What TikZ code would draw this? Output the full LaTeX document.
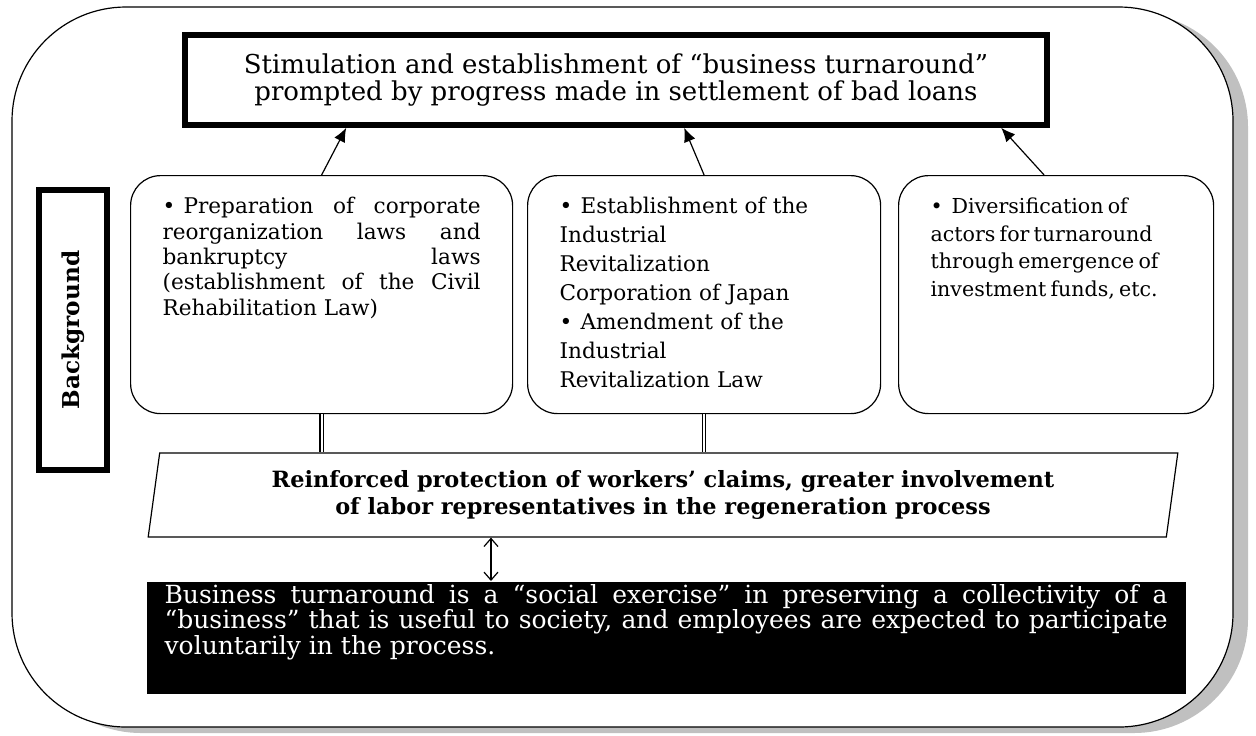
\documentclass[tikz,border=0pt]{standalone}
\usepackage{fontspec}
\setmainfont{DejaVu Serif}
\usepackage{tikz}
\usetikzlibrary{arrows.meta}
\usetikzlibrary{shapes.geometric}
\definecolor{shadowgray}{RGB}{192,192,192}
\newcommand{\bitem}{\noindent\hangindent=10.5pt\hangafter=1\makebox[10.5pt][l]{\textbullet}}

\begin{document}
\begin{tikzpicture}[x=0.5pt,y=-0.5pt,line width=0.6pt,
  cause/.style={draw,rounded corners=15pt,anchor=north west,inner xsep=16pt,inner ysep=0pt,
    text height=19pt,text depth=100pt},
  up/.style={-{Latex[length=7pt,width=6pt]}},
  barb/.style={{Straight Barb[length=4pt,width=7pt]}-{Straight Barb[length=4pt,width=7pt]}}]
\useasboundingbox (0,0) rectangle (1256,735);
\fill[shadowgray,rounded corners=57pt] (27,13) rectangle (1248,733);
\draw[fill=white,rounded corners=57pt] (12,7) rectangle (1233,727);
\node (goal) [draw,line width=2.8pt,minimum width=431pt,minimum height=45pt,align=center,
  font=\fontsize{13}{13.2}\selectfont] at (616,80)
  {Stimulation and establishment of “business turnaround”\\prompted by progress made in settlement of bad loans};
\node (bg) [draw,line width=2.6pt,rotate=90,minimum width=140pt,minimum height=34pt,
  font=\fontsize{11.6}{14}\selectfont\bfseries] at (73,330) {Background};
\node (law) [cause,text width=159pt,align=justify,font=\fontsize{10.8}{12.7}\selectfont] at (130,175)
  {\bitem Preparation of corporate\linebreak reorganization laws and\linebreak bankruptcy laws\linebreak
   (establishment of the Civil\linebreak Rehabilitation Law)};
\node (irc) [cause,text width=144.5pt,align=left,font=\fontsize{10.8}{14.5}\selectfont] at (527,175)
  {\bitem Establishment of the\\Industrial\\Revitalization\\Corporation of Japan
   \par\bitem Amendment of the\\Industrial\\Revitalization Law};
\node (fund) [cause,text width=125.5pt,align=left,font=\fontsize{10.3}{13.8}\selectfont] at (898,175)
  {\spaceskip=0.2em plus 0.1em\bitem Diversification of\\actors for turnaround\\through emergence of\\investment funds, etc.};
\node (claims) [draw,trapezium,trapezium left angle=81,trapezium right angle=99,trapezium stretches=true,
  minimum width=515pt,minimum height=42pt,inner sep=2pt,align=center,
  font=\fontsize{11.2}{13.5}\selectfont\bfseries] at (663,495)
  {Reinforced protection of workers’ claims, greater involvement\\of labor representatives in the regeneration process};
\node (turn) [fill=black,text=white,anchor=north west,inner xsep=9pt,inner ysep=0pt,text width=501.5pt,
  text height=11pt,text depth=45pt,align=justify,font=\fontsize{12.5}{12.6}\selectfont] at (146,581)
  {Business turnaround is a “social exercise” in preserving a collectivity of a\linebreak
   “business” that is useful to society, and employees are expected to participate\linebreak
   voluntarily in the process.};
\coordinate (mid) at (491,560);
\draw[up] (law.north) -- ([xshift=82pt]goal.south west);
\draw[up] (irc.north) -- ([xshift=251pt]goal.south west);
\draw[up] ([xshift=-6pt]fund.north) -- ([xshift=409.5pt]goal.south west);
\draw[double,double distance=1pt] (law.south) -- (law.south |- claims.north);
\draw[double,double distance=1pt] (irc.south) -- (irc.south |- claims.north);
\draw[barb] (mid |- claims.south) -- (mid |- turn.north);
\end{tikzpicture}
\end{document}
